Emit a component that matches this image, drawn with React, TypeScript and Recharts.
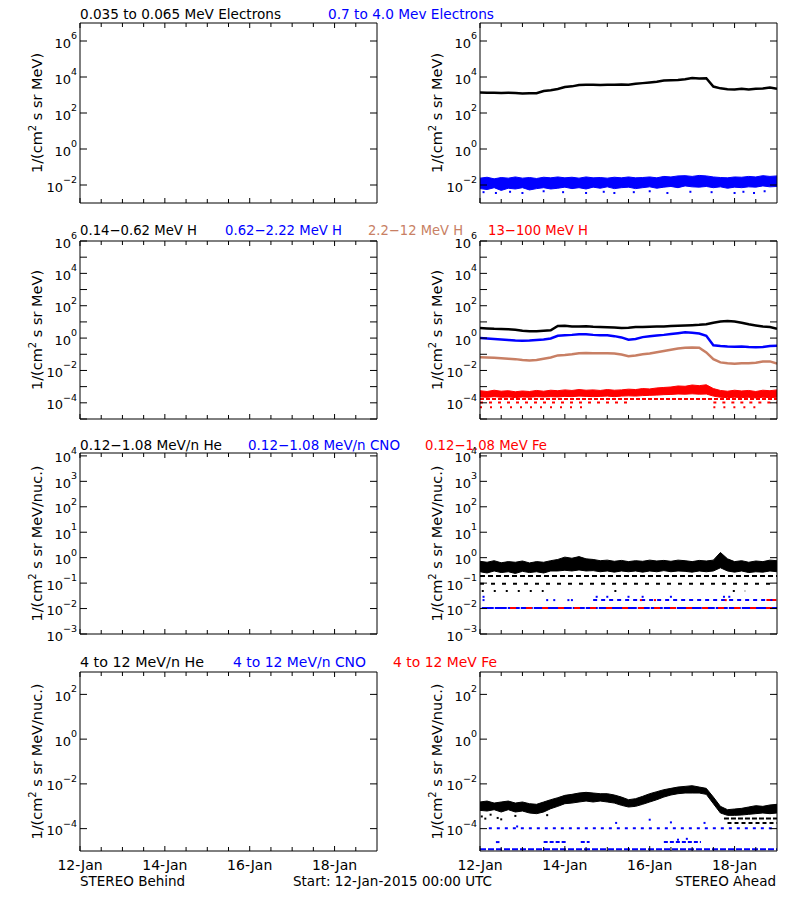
import React from "react";
import { ComposedChart, Line, Area, Scatter, XAxis, YAxis, ReferenceLine } from "recharts";

const FONT = "'DejaVu Sans', sans-serif";
const BLUE = "#0000ff";
const RED = "#ff0000";
const BROWN = "#c87f64";

// hours since 12-Jan-2015 00:00 UTC
const HOURS = [0, 4, 8, 12, 16, 20, 24, 28, 32, 36, 40, 44, 48, 52, 56, 60, 64, 68, 72, 76, 80, 84, 88, 92, 96, 100, 104, 108, 112, 116, 120, 124, 128, 132, 136, 140, 144, 148, 152, 156, 160, 164, 168];
const HOUR_TICKS = [0, 12, 24, 36, 48, 60, 72, 84, 96, 108, 120, 132, 144, 156];
const DATE_TICKS = [0, 48, 96, 144];
const DATE_LABELS = ["12-Jan", "14-Jan", "16-Jan", "18-Jan"];

// electrons
const E_LOW = [1380, 1350, 1320, 1290, 1320, 1290, 1230, 1260, 1260, 1660, 1860, 2140, 2750, 3020, 3550, 3720, 3720, 3630, 3720, 3720, 3800, 3720, 4170, 4570, 5010, 5500, 6310, 6610, 6760, 7590, 8710, 8320, 8510, 2950, 2340, 2090, 2040, 2190, 2000, 2240, 2290, 2630, 2240];
const E_HIGH_HI = [0.024, 0.027, 0.022, 0.026, 0.024, 0.028, 0.024, 0.026, 0.023, 0.027, 0.025, 0.028, 0.025, 0.027, 0.024, 0.028, 0.025, 0.026, 0.024, 0.027, 0.025, 0.028, 0.025, 0.026, 0.028, 0.025, 0.03, 0.028, 0.032, 0.033, 0.03, 0.034, 0.032, 0.028, 0.026, 0.025, 0.028, 0.027, 0.03, 0.028, 0.033, 0.03, 0.032];
const E_HIGH_LO = [0.0063, 0.0056, 0.0071, 0.005, 0.0066, 0.006, 0.0071, 0.0053, 0.0063, 0.0071, 0.006, 0.0066, 0.0076, 0.0063, 0.0071, 0.006, 0.0076, 0.0066, 0.0079, 0.0063, 0.0071, 0.0076, 0.0063, 0.0071, 0.0079, 0.0066, 0.0076, 0.0083, 0.0071, 0.0089, 0.0079, 0.0076, 0.0083, 0.0071, 0.0079, 0.0066, 0.0076, 0.0071, 0.0079, 0.0076, 0.0089, 0.0079, 0.0083];
const E_HIGH_SPARSE: [number, number][] = [[2, 0.004], [9, 0.0036], [17, 0.0042], [24, 0.0036], [36, 0.0045], [47, 0.004], [60, 0.0036], [70, 0.0042], [76, 0.0036], [87, 0.004], [96, 0.0045], [106, 0.0036], [119, 0.0042], [131, 0.004], [144, 0.0036], [149, 0.0042], [155, 0.0036], [161, 0.0045]];

// protons
const H_1 = [4.17, 3.98, 3.72, 3.63, 3.55, 3.31, 2.82, 2.63, 2.69, 2.82, 3.02, 5.62, 5.75, 5.25, 5.25, 5.37, 5.01, 4.79, 4.68, 4.47, 4.27, 4.37, 4.79, 4.9, 5.01, 5.13, 5.25, 5.5, 5.75, 6.03, 6.31, 6.61, 7.08, 8.91, 10.7, 11.2, 10.7, 8.91, 7.08, 6.03, 5.25, 4.79, 3.8];
const H_2 = [1.0, 0.95, 0.89, 0.83, 0.76, 0.71, 0.69, 0.71, 0.76, 0.83, 0.95, 1.38, 1.51, 1.58, 1.74, 1.74, 1.58, 1.51, 1.48, 1.32, 1.1, 0.79, 0.87, 1.15, 1.32, 1.45, 1.58, 1.78, 2.0, 2.29, 2.14, 1.91, 1.4, 0.36, 0.32, 0.3, 0.295, 0.3, 0.28, 0.27, 0.28, 0.32, 0.34];
const H_3 = [0.0646, 0.0631, 0.0603, 0.0562, 0.0525, 0.0501, 0.0447, 0.0417, 0.0437, 0.0525, 0.0631, 0.0851, 0.0912, 0.1, 0.115, 0.12, 0.1175, 0.1175, 0.115, 0.11, 0.0955, 0.0759, 0.0832, 0.1, 0.112, 0.132, 0.158, 0.19, 0.224, 0.251, 0.263, 0.251, 0.13, 0.05, 0.0316, 0.0275, 0.0263, 0.0275, 0.0282, 0.0302, 0.0355, 0.0363, 0.0263];
const H_4_HI = [5.6e-4, 5.0e-4, 6.0e-4, 5.2e-4, 5.6e-4, 4.8e-4, 5.4e-4, 5.0e-4, 5.8e-4, 5.2e-4, 6.0e-4, 5.6e-4, 6.3e-4, 5.8e-4, 6.6e-4, 6.0e-4, 6.3e-4, 5.8e-4, 6.6e-4, 6.0e-4, 6.3e-4, 7.0e-4, 6.6e-4, 7.6e-4, 7.2e-4, 8.3e-4, 8.9e-4, 9.5e-4, 1.1e-3, 1.05e-3, 1.26e-3, 1.15e-3, 1.3e-3, 7.6e-4, 5.8e-4, 5.2e-4, 6.0e-4, 5.4e-4, 5.8e-4, 5.0e-4, 6.0e-4, 5.6e-4, 6.3e-4];
const H_4_LO = [2.3e-4, 2.2e-4, 2.4e-4, 2.2e-4, 2.3e-4, 2.1e-4, 2.3e-4, 2.2e-4, 2.4e-4, 2.3e-4, 2.4e-4, 2.3e-4, 2.5e-4, 2.4e-4, 2.6e-4, 2.5e-4, 2.4e-4, 2.5e-4, 2.6e-4, 2.4e-4, 2.6e-4, 2.7e-4, 2.6e-4, 2.8e-4, 2.9e-4, 3.0e-4, 3.2e-4, 3.3e-4, 3.5e-4, 3.4e-4, 3.6e-4, 3.4e-4, 3.5e-4, 2.6e-4, 2.2e-4, 2.1e-4, 2.2e-4, 2.1e-4, 2.2e-4, 2.0e-4, 2.2e-4, 2.1e-4, 2.2e-4];

type Level = { v: number; from: number; to: number };
const H_4_LEVELS: Level[][] = [
  [{ v: 1.7e-4, from: 0, to: 168 }],
  [{ v: 1.05e-4, from: 0, to: 84 }, { v: 1.05e-4, from: 132, to: 168 }],
  [{ v: 5.4e-5, from: 0, to: 60 }, { v: 5.4e-5, from: 132, to: 158 }],
];

// 0.12-1.08 MeV/n
const HE_LO_HI = [0.72, 0.66, 0.76, 0.63, 0.7, 0.66, 0.74, 0.62, 0.7, 0.66, 0.76, 0.85, 1.05, 0.95, 1.1, 0.9, 0.85, 0.76, 0.8, 0.72, 0.78, 0.7, 0.76, 0.72, 0.8, 0.74, 0.78, 0.72, 0.8, 0.76, 0.7, 0.78, 0.74, 0.8, 1.6, 0.9, 0.7, 0.76, 0.66, 0.74, 0.7, 0.8, 0.76];
const HE_LO_LO = [0.28, 0.25, 0.3, 0.26, 0.28, 0.24, 0.29, 0.26, 0.28, 0.25, 0.3, 0.3, 0.32, 0.3, 0.33, 0.3, 0.31, 0.28, 0.3, 0.27, 0.3, 0.28, 0.3, 0.27, 0.3, 0.28, 0.31, 0.28, 0.3, 0.29, 0.27, 0.3, 0.28, 0.3, 0.4, 0.3, 0.27, 0.3, 0.26, 0.28, 0.27, 0.3, 0.28];
const HE_LO_LEVELS: Level[][] = [
  [{ v: 0.19, from: 0, to: 168 }],
  [{ v: 0.095, from: 0, to: 168 }],
  [{ v: 0.049, from: 1, to: 36 }, { v: 0.049, from: 76, to: 80 }, { v: 0.049, from: 143, to: 150 }],
];
const CNO_LO_LEVELS: Level[][] = [
  [{ v: 0.0105, from: 1, to: 168 }],
  [{ v: 0.0215, from: 64, to: 168 }],
];
const CNO_LO_SPARSE: [number, number][] = [[2, 0.0215], [2, 0.029], [38, 0.0215], [42, 0.0215], [50, 0.0215], [52, 0.0215], [66, 0.029], [72, 0.029], [84, 0.029], [92, 0.029], [108, 0.029], [138, 0.029], [141, 0.029]];
const FE_LO_LEVELS: Level[][] = [
  [{ v: 0.0105, from: 17, to: 168 }],
  [{ v: 0.0215, from: 162, to: 168 }],
];
const FE_LO_SPARSE: [number, number][] = [[91, 0.0215], [99, 0.0215], [139, 0.0215]];

// 4 to 12 MeV/n
const HE_HI_HI = [1.55e-3, 1.71e-3, 1.39e-3, 1.55e-3, 1.71e-3, 1.39e-3, 1.55e-3, 1.3e-3, 1.22e-3, 1.55e-3, 1.96e-3, 2.41e-3, 3.07e-3, 3.4e-3, 3.9e-3, 4.18e-3, 3.9e-3, 3.64e-3, 3.64e-3, 3.18e-3, 2.58e-3, 1.96e-3, 2.18e-3, 2.77e-3, 3.64e-3, 4.47e-3, 5.49e-3, 6.3e-3, 7.22e-3, 7.73e-3, 8.28e-3, 7.22e-3, 6.3e-3, 2.58e-3, 9.9e-4, 7.03e-4, 7.52e-4, 8.05e-4, 9.25e-4, 1.06e-3, 9.9e-4, 1.14e-3, 1.22e-3];
const HE_HI_LO = [6.56e-4, 6.12e-4, 7.03e-4, 5.53e-4, 7.03e-4, 5.53e-4, 6.12e-4, 4.99e-4, 4.66e-4, 5.53e-4, 7.78e-4, 9.9e-4, 1.3e-3, 1.39e-3, 1.55e-3, 1.71e-3, 1.55e-3, 1.71e-3, 1.55e-3, 1.39e-3, 1.1e-3, 9.25e-4, 9.9e-4, 1.22e-3, 1.55e-3, 1.96e-3, 2.58e-3, 3.18e-3, 3.64e-3, 3.9e-3, 3.9e-3, 3.9e-3, 3.4e-3, 1.3e-3, 4.99e-4, 3.92e-4, 3.92e-4, 4.06e-4, 4.35e-4, 4.66e-4, 4.99e-4, 4.66e-4, 4.99e-4];
const HE_HI_LEVELS: Level[][] = [
  [{ v: 2.8e-4, from: 138, to: 168 }],
  [{ v: 1.8e-4, from: 140, to: 168 }],
];
const HE_HI_SPARSE: [number, number][] = [[1, 3.5e-4], [3, 2.8e-4], [6, 4.2e-4], [10, 3.0e-4], [12, 2.6e-4], [20, 3.7e-4], [38, 4.0e-4]];
const CNO_HI_LEVELS: Level[][] = [
  [{ v: 1.2e-5, from: 0, to: 168 }],
  [{ v: 2.5e-5, from: 9, to: 11 }, { v: 2.5e-5, from: 36, to: 49 }, { v: 2.5e-5, from: 57, to: 62 }, { v: 2.5e-5, from: 104, to: 125 }],
  [{ v: 1.05e-4, from: 5, to: 168 }],
];
const CNO_HI_SPARSE: [number, number][] = [[21, 1.25e-4], [77, 1.8e-4], [96, 2.5e-4], [108, 1.9e-4], [127, 1.8e-4], [112, 3.2e-5], [117, 3.5e-5]];

const ROWS = HOURS.map((h, i) => ({
  h,
  eLow: E_LOW[i],
  eHigh: [E_HIGH_LO[i], E_HIGH_HI[i]],
  h1: H_1[i],
  h2: H_2[i],
  h3: H_3[i],
  h4: [H_4_LO[i], H_4_HI[i]],
  heLo: [HE_LO_LO[i], HE_LO_HI[i]],
  heHi: [HE_HI_LO[i], HE_HI_HI[i]],
}));

const TITLES = [
  ["0.035 to 0.065 MeV Electrons", "0.7 to 4.0 Mev Electrons"],
  ["0.14\u22120.62 MeV H", "0.62\u22122.22 MeV H", "2.2\u221212 MeV H", "13\u2212100 MeV H"],
  ["0.12\u22121.08 MeV/n He", "0.12\u22121.08 MeV/n CNO", "0.12\u22121.08 MeV Fe"],
  ["4 to 12 MeV/n He", "4 to 12 MeV/n CNO", "4 to 12 MeV Fe"],
];
const TITLE_X = [[80, 328], [80, 225, 368, 488], [80, 248, 425], [80, 233, 393]];
const TITLE_W = [[201, 166], [117, 117, 95, 100], [142, 152, 122], [124, 133, 104]];
const TITLE_Y = [18.5, 234.5, 450, 666.5];
const TITLE_COLORS = [["#000", BLUE], ["#000", BLUE, BROWN, RED], ["#000", BLUE, RED], ["#000", BLUE, RED]];

const PLOT_TOP = [23, 241, 453, 672];
const PLOT_H = [180, 178, 181, 179];
const Y_DOMAINS: [number, number][] = [[1e-3, 1e7], [1e-5, 1e6], [1e-3, 1.3e4], [1e-5, 1e3]];
const Y_TICKS = [
  [1e-2, 1, 1e2, 1e4, 1e6],
  [1e-5, 1e-4, 1e-3, 1e-2, 1e-1, 1, 1e1, 1e2, 1e3, 1e4, 1e5, 1e6],
  [1e-3, 1e-2, 1e-1, 1, 1e1, 1e2, 1e3, 1e4],
  [1e-4, 1e-2, 1, 1e2],
];
const Y_LABELLED = [[-2, 0, 2, 4, 6], [-4, -2, 0, 2, 4, 6], [-3, -2, -1, 0, 1, 2, 3, 4], [-4, -2, 0, 2]];
const Y_UNITS = ["MeV)", "MeV)", "MeV/nuc.)", "MeV/nuc.)"];

const expOf = (v: number) => Math.round(Math.log10(v));

const LeftTick = (props: any) => {
  const { x, y, payload, labelled } = props;
  const e = expOf(payload.value);
  return (
    <g>
      <line x1={x} x2={x + 7} y1={y} y2={y} stroke="#000" />
      {labelled.includes(e) && (
        <text x={x - 3} y={y + 6.5} textAnchor="end" fontFamily={FONT} fontSize={13} fill="#000">
          10
          <tspan dy={-8.5} fontSize={9.5}>{e < 0 ? `\u2212${-e}` : `${e}`}</tspan>
        </text>
      )}
    </g>
  );
};

const RightTick = (props: any) => (
  <line x1={props.x - 7} x2={props.x} y1={props.y} y2={props.y} stroke="#000" />
);

const BottomTick = (props: any) => {
  const { x, y, payload, showDates } = props;
  const idx = DATE_TICKS.indexOf(payload.value);
  return (
    <g>
      <line x1={x} x2={x} y1={y} y2={y - (idx >= 0 ? 5 : 4)} stroke="#000" />
      {showDates && idx >= 0 && (
        <text x={x} y={y + 19} textAnchor="middle" fontFamily={FONT} fontSize={14} fill="#000">
          {DATE_LABELS[idx]}
        </text>
      )}
    </g>
  );
};

const TopTick = (props: any) => {
  const { x, y, payload } = props;
  const major = DATE_TICKS.includes(payload.value);
  return <line x1={x} x2={x} y1={y} y2={y + (major ? 5 : 4)} stroke="#000" />;
};

const Pixel = (p: any) => <rect x={p.cx - 1} y={p.cy - 1} width={2} height={2} fill={p.fill} />;

const levelLines = (levels: Level[], color: string, dash: string, key: string) =>
  levels.map((l, i) => (
    <ReferenceLine
      key={`${key}-${i}`}
      xAxisId="b"
      yAxisId="l"
      segment={[{ x: l.from, y: l.v }, { x: l.to, y: l.v }]}
      stroke={color}
      strokeWidth={2}
      strokeDasharray={dash}
    />
  ));

const sparse = (pts: [number, number][], color: string, key: string) => (
  <Scatter
    key={key}
    xAxisId="b"
    yAxisId="l"
    data={pts.map(([h, v]) => ({ h, v }))}
    dataKey="v"
    fill={color}
    shape={Pixel}
    isAnimationActive={false}
  />
);

const Panel = ({ col, row, children }: { col: number; row: number; children?: React.ReactNode }) => {
  const h = PLOT_H[row];
  const labelled = Y_LABELLED[row];
  return (
    <div style={{ position: "absolute", left: col * 400, top: PLOT_TOP[row] - 10 }}>
      <ComposedChart width={400} height={h + 40} data={ROWS} margin={{ top: 0, right: 13, bottom: 0, left: 0 }}>
        <XAxis
          xAxisId="b"
          dataKey="h"
          type="number"
          domain={[0, 168]}
          ticks={HOUR_TICKS}
          interval={0}
          height={30}
          tickSize={0}
          tickMargin={0}
          tickLine={false}
          axisLine={{ stroke: "#000" }}
          allowDataOverflow
          tick={(p: any) => <BottomTick {...p} showDates={row === 3} />}
        />
        <XAxis
          xAxisId="t"
          orientation="top"
          dataKey="h"
          type="number"
          domain={[0, 168]}
          ticks={HOUR_TICKS}
          interval={0}
          height={10}
          tickSize={0}
          tickMargin={0}
          tickLine={false}
          axisLine={{ stroke: "#000" }}
          allowDataOverflow
          tick={(p: any) => <TopTick {...p} />}
        />
        <YAxis
          yAxisId="l"
          scale="log"
          domain={Y_DOMAINS[row]}
          ticks={Y_TICKS[row]}
          interval={0}
          width={80}
          tickSize={0}
          tickMargin={0}
          tickLine={false}
          axisLine={{ stroke: "#000" }}
          allowDataOverflow
          tick={(p: any) => <LeftTick {...p} labelled={labelled} />}
        />
        <YAxis
          yAxisId="r"
          orientation="right"
          scale="log"
          domain={Y_DOMAINS[row]}
          ticks={Y_TICKS[row]}
          interval={0}
          width={10}
          tickSize={0}
          tickMargin={0}
          tickLine={false}
          axisLine={{ stroke: "#000" }}
          allowDataOverflow
          tick={(p: any) => <RightTick {...p} />}
        />
        {children}
      </ComposedChart>
    </div>
  );
};

const Labels = () => (
  <svg width={800} height={900} style={{ position: "absolute", left: 0, top: 0, pointerEvents: "none" }}>
    {TITLES.map((row, r) =>
      row.map((t, i) => (
        <text
          key={`${r}-${i}`}
          x={TITLE_X[r][i]}
          y={TITLE_Y[r]}
          textLength={TITLE_W[r][i]}
          lengthAdjust="spacingAndGlyphs"
          fontFamily={FONT}
          fontSize={13.5}
          fill={TITLE_COLORS[r][i]}
        >
          {t}
        </text>
      ))
    )}
    {[0, 1].map((c) =>
      PLOT_TOP.map((top, r) => {
        const cx = c * 400 + 41.5;
        const cy = top + PLOT_H[r] / 2;
        return (
          <text
            key={`y-${c}-${r}`}
            x={cx}
            y={cy}
            transform={`rotate(-90 ${cx} ${cy})`}
            textAnchor="middle"
            fontFamily={FONT}
            fontSize={14.5}
            fill="#000"
          >
            1/(cm
            <tspan dy={-6} fontSize={10}>2</tspan>
            <tspan dy={6}>{` s sr ${Y_UNITS[r]}`}</tspan>
          </text>
        );
      })
    )}
    <text x={80} y={886} fontFamily={FONT} fontSize={13.5} fill="#000">STEREO Behind</text>
    <text x={293} y={886} fontFamily={FONT} fontSize={13.5} fill="#000">Start: 12-Jan-2015 00:00 UTC</text>
    <text x={776} y={886} textAnchor="end" fontFamily={FONT} fontSize={13.5} fill="#000">STEREO Ahead</text>
  </svg>
);

export default function App() {
  return (
    <div style={{ position: "absolute", left: 0, top: 0, width: 800, height: 900, background: "#fff", overflow: "hidden" }}>
      {[0, 1, 2, 3].map((r) => (
        <Panel key={`b-${r}`} col={0} row={r} />
      ))}

      <Panel col={1} row={0}>
        <Area xAxisId="b" yAxisId="l" dataKey="eHigh" type="linear" stroke={BLUE} strokeWidth={1} fill={BLUE} fillOpacity={1} isAnimationActive={false} />
        {sparse(E_HIGH_SPARSE, BLUE, "eh-sp")}
        <Line xAxisId="b" yAxisId="l" dataKey="eLow" type="linear" stroke="#000" strokeWidth={2.5} dot={false} isAnimationActive={false} />
      </Panel>

      <Panel col={1} row={1}>
        <Area xAxisId="b" yAxisId="l" dataKey="h4" type="linear" stroke={RED} strokeWidth={1} fill={RED} fillOpacity={1} isAnimationActive={false} />
        {levelLines(H_4_LEVELS[0], RED, "4 2", "h4a")}
        {levelLines(H_4_LEVELS[1], RED, "3 6", "h4b")}
        {levelLines(H_4_LEVELS[2], RED, "2 8", "h4c")}
        <Line xAxisId="b" yAxisId="l" dataKey="h3" type="linear" stroke={BROWN} strokeWidth={2.5} dot={false} isAnimationActive={false} />
        <Line xAxisId="b" yAxisId="l" dataKey="h2" type="linear" stroke={BLUE} strokeWidth={2.5} dot={false} isAnimationActive={false} />
        <Line xAxisId="b" yAxisId="l" dataKey="h1" type="linear" stroke="#000" strokeWidth={2.5} dot={false} isAnimationActive={false} />
      </Panel>

      <Panel col={1} row={2}>
        <Area xAxisId="b" yAxisId="l" dataKey="heLo" type="linear" stroke="#000" strokeWidth={1} fill="#000" fillOpacity={1} isAnimationActive={false} />
        {levelLines(HE_LO_LEVELS[0], "#000", "5 3", "hla")}
        {levelLines(HE_LO_LEVELS[1], "#000", "4 7", "hlb")}
        {levelLines(HE_LO_LEVELS[2], "#000", "2 10", "hlc")}
        {levelLines(CNO_LO_LEVELS[0], BLUE, "12 1", "cla")}
        {levelLines(CNO_LO_LEVELS[1], BLUE, "4 4", "clb")}
        {sparse(CNO_LO_SPARSE, BLUE, "cl-sp")}
        {levelLines(FE_LO_LEVELS[0], RED, "6 10", "fla")}
        {levelLines(FE_LO_LEVELS[1], RED, "4 2", "flb")}
        {sparse(FE_LO_SPARSE, RED, "fl-sp")}
      </Panel>

      <Panel col={1} row={3}>
        <Area xAxisId="b" yAxisId="l" dataKey="heHi" type="linear" stroke="#000" strokeWidth={1} fill="#000" fillOpacity={1} isAnimationActive={false} />
        {levelLines(HE_HI_LEVELS[0], "#000", "5 2", "hha")}
        {levelLines(HE_HI_LEVELS[1], "#000", "4 3", "hhb")}
        {sparse(HE_HI_SPARSE, "#000", "hh-sp")}
        {levelLines(CNO_HI_LEVELS[0], BLUE, "6 2", "cha")}
        {levelLines(CNO_HI_LEVELS[1], BLUE, "4 2", "chb")}
        {levelLines(CNO_HI_LEVELS[2], BLUE, "3 5", "chc")}
        {sparse(CNO_HI_SPARSE, BLUE, "ch-sp")}
      </Panel>

      <Labels />
    </div>
  );
}
